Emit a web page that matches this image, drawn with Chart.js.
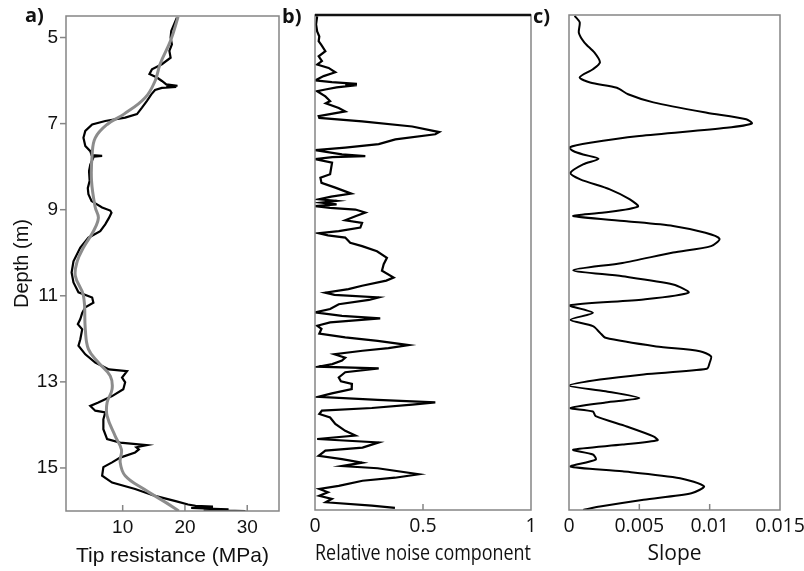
<!DOCTYPE html>
<html>
<head>
<meta charset="utf-8">
<script src="https://cdn.jsdelivr.net/npm/chart.js@4.4.0/dist/chart.umd.min.js"></script>
<style>
  html, body { margin: 0; padding: 0; background: #fff; }
  #wrap { position: relative; width: 804px; height: 571px; overflow: hidden; }
  canvas { position: absolute; top: 0; }
</style>
</head>
<body>
<div id="wrap">
  <canvas id="tipChart" width="280" height="571" style="left:0"></canvas>
  <canvas id="noiseChart" width="260" height="571" style="left:280px"></canvas>
  <canvas id="slopeChart" width="274" height="571" style="left:530px"></canvas>
</div>
<script>
// a) tip resistance, raw (black) and smoothed (grey), depth in m
const rawDepth = [4.54, 4.85, 5.0, 5.16, 5.31, 5.47, 5.62, 5.74, 5.85, 5.93, 6.01, 6.09, 6.12, 6.14, 6.15, 6.17,
  6.22, 6.32, 6.47, 6.63, 6.78, 6.86, 6.94, 7.02, 7.17, 7.33, 7.52, 7.64, 7.73, 7.75, 7.77, 7.79, 7.95, 8.1,
  8.33, 8.5, 8.64, 8.8, 8.95, 9.02, 9.07, 9.19, 9.34, 9.5, 9.65, 9.88, 10.2, 10.46, 10.69, 10.92, 11.04,
  11.16, 11.27, 11.4, 11.54, 11.66, 11.78, 12.01, 12.16, 12.36, 12.55, 12.71, 12.75, 12.9, 13.01, 13.17,
  13.33, 13.48, 13.56, 13.67, 13.71, 13.87, 14.1, 14.33, 14.41, 14.47, 14.52, 14.57, 14.64, 14.76, 14.87,
  14.98, 15.18, 15.34, 15.49, 15.65, 15.77, 15.85, 15.88, 15.9, 15.93, 15.96, 15.98, 16.0];
const rawTip = [18.7, 17.8, 17.7, 17.9, 17.5, 17.7, 16.3, 14.7, 14.3, 15.5, 16.3, 17.0, 18.8, 17.0, 18.6, 16.3,
  15.2, 14.6, 13.9, 13.1, 12.3, 10.4, 7.2, 5.1, 4.0, 3.7, 4.0, 4.8, 5.0, 6.7, 5.3, 5.3, 4.8, 4.6,
  4.7, 4.4, 4.5, 5.0, 6.7, 8.0, 8.2, 7.8, 7.2, 6.4, 4.5, 3.2, 2.1, 1.8, 2.1, 2.9, 5.1,
  5.3, 4.0, 3.5, 3.2, 2.8, 3.5, 3.2, 2.9, 4.0, 5.6, 7.8, 10.7, 9.9, 10.4, 10.1,
  8.3, 6.1, 4.8, 5.6, 7.2, 6.9, 6.9, 7.5, 9.6, 13.9, 12.2, 12.6, 12.0, 9.6, 8.3,
  6.9, 6.7, 8.3, 12.0, 15.2, 18.5, 20.5, 21.7, 24.5, 21.0, 27.0, 23.0, 29.7];
const smoothDepth = [4.52, 5.07, 5.62, 6.01, 6.4, 6.78, 7.02, 7.33, 7.72, 8.33, 8.95, 9.19, 9.5, 9.88, 10.2,
  10.54, 11.0, 11.78, 12.24, 12.55, 12.86, 13.17, 13.48, 13.79, 14.26, 14.57, 14.87, 15.18, 15.49, 15.8, 16.0];
const smoothTip = [18.9, 17.7, 16.0, 15.2, 13.6, 10.2, 7.5, 5.6, 5.1, 5.0, 5.6, 6.1, 5.3, 3.7, 2.7,
  2.4, 3.7, 4.0, 4.5, 6.1, 8.0, 8.3, 7.5, 7.5, 8.8, 9.8, 9.6, 10.4, 13.4, 16.9, 19.0];

// b) relative noise component
const noiseDepth = [4.53, 4.72, 4.88, 5.0, 5.11, 5.2, 5.34, 5.46, 5.57, 5.65, 5.73, 5.83, 5.92, 6.02, 6.06,
  6.1, 6.12, 6.13, 6.18, 6.23, 6.27, 6.39, 6.5, 6.55, 6.66, 6.74, 6.85, 6.89, 6.97, 7.09, 7.22, 7.27,
  7.39, 7.5, 7.58, 7.64, 7.74, 7.78, 7.8, 7.85, 7.93, 8.05, 8.2, 8.28, 8.4, 8.51, 8.65, 8.72, 8.78,
  8.82, 8.86, 8.9, 8.94, 8.98, 9.02, 9.09, 9.17, 9.27, 9.33, 9.44, 9.52, 9.57, 9.62, 9.67, 9.79, 9.87,
  9.99, 10.14, 10.29, 10.44, 10.6, 10.67, 10.79, 10.87, 10.95, 11.0, 11.06, 11.12, 11.22, 11.33, 11.41,
  11.49, 11.55, 11.64, 11.72, 11.79, 11.9, 11.99, 12.07, 12.17, 12.24, 12.3, 12.38, 12.46, 12.53, 12.61,
  12.67, 12.71, 12.8, 12.92, 13.01, 13.07, 13.19, 13.29, 13.37, 13.44, 13.5, 13.55, 13.63, 13.69, 13.77,
  13.85, 14.0, 14.16, 14.27, 14.35, 14.43, 14.55, 14.62, 14.74, 14.82, 14.9, 14.98, 15.03, 15.17, 15.25,
  15.32, 15.44, 15.51, 15.59, 15.67, 15.74, 15.82, 15.9, 15.95];
const noiseVal = [0.01, 0.005, 0.01, 0.02, 0.017, 0.03, 0.048, 0.017, 0.032, 0.01, 0.063, 0.094, 0.04, 0.0, 0.078,
  0.194, 0.14, 0.194, 0.1, 0.048, 0.01, 0.048, 0.07, 0.05, 0.11, 0.14, 0.017, 0.02, 0.218, 0.45, 0.575, 0.557,
  0.372, 0.295, 0.14, 0.0, 0.125, 0.233, 0.08, 0.0, 0.079, 0.075, 0.07, 0.025, 0.03, 0.094, 0.168, 0.075, 0.02,
  0.1, 0.03, 0.1, 0.0, 0.07, 0.187, 0.233, 0.19, 0.14, 0.218, 0.21, 0.11, 0.017, 0.06, 0.14, 0.163, 0.218,
  0.287, 0.333, 0.318, 0.31, 0.364, 0.33, 0.218, 0.155, 0.048, 0.09, 0.295, 0.25, 0.11, 0.07, 0.0,
  0.125, 0.302, 0.07, 0.01, 0.03, 0.02, 0.14, 0.29, 0.434, 0.34, 0.22, 0.09, 0.14, 0.125, 0.08,
  0.017, 0.295, 0.14, 0.11, 0.12, 0.171, 0.17, 0.078, 0.017, 0.29, 0.557, 0.45, 0.263, 0.032, 0.02,
  0.07, 0.094, 0.14, 0.187, 0.01, 0.295, 0.22, 0.048, 0.017, 0.125, 0.218, 0.125, 0.29, 0.48, 0.37,
  0.22, 0.11, 0.02, 0.06, 0.02, 0.078, 0.05, 0.263, 0.37];

// c) slope
const slopeDepth = [4.52, 4.67, 4.91, 5.14, 5.37, 5.6, 5.76, 5.95, 6.07, 6.19, 6.34, 6.53, 6.77, 6.92, 7.02,
  7.12, 7.31, 7.47, 7.58, 7.66, 7.74, 7.84, 7.97, 8.17, 8.32, 8.55, 8.78, 8.95, 9.09, 9.17, 9.29, 9.4,
  9.56, 9.7, 9.87, 10.02, 10.26, 10.43, 10.57, 10.76, 10.95, 11.11, 11.25, 11.42, 11.58, 11.73, 11.88,
  12.0, 12.2, 12.31, 12.43, 12.58, 12.72, 12.85, 12.97, 13.11, 13.24, 13.4, 13.5, 13.63, 13.71, 13.82,
  14.06, 14.29, 14.38, 14.48, 14.6, 14.71, 14.83, 14.99, 15.1, 15.26, 15.45, 15.61, 15.76, 15.92, 16.0];
const slopeVal = [0.0004, 0.00076, 0.0007, 0.0011, 0.0018, 0.0022, 0.0017, 0.00076, 0.0015, 0.0034, 0.0042,
  0.006, 0.0098, 0.0126, 0.013, 0.0112, 0.005, 0.0015, 0.0, 0.0003, 0.001, 0.0021, 0.001, 0.0001, 0.0008,
  0.0029, 0.0043, 0.0049, 0.0025, 0.0003, 0.0041, 0.0074, 0.0097, 0.0107, 0.0101, 0.0074, 0.0038, 0.0003,
  0.0038, 0.0074, 0.0085, 0.0053, 0.0, 0.0017, 0.0001, 0.0017, 0.0022, 0.0026, 0.0062, 0.0093, 0.0101,
  0.01, 0.0098, 0.0053, 0.0022, 0.0, 0.0026, 0.005, 0.0026, 0.0001, 0.0017, 0.0019, 0.0041, 0.006, 0.0063,
  0.0038, 0.0003, 0.0017, 0.0019, 0.0001, 0.0038, 0.0079, 0.0096, 0.0087, 0.0053, 0.0022, 0.001];

const depthTicks = [5, 7, 9, 11, 13, 15];
const tipTicks = [10, 20, 30];
const noiseTicks = [0, 0.5, 1];
const slopeTicks = [0, 0.005, 0.01, 0.015];

function points(depths, values) {
  return depths.map((d, i) => ({ x: values[i], y: d }));
}

// frame box, inward/outward ticks and the panel letter
const panelFrame = {
  id: 'panelFrame',
  afterDraw(chart, args, o) {
    const { ctx, chartArea: a } = chart;
    const xs = chart.scales.x, ys = chart.scales.y;
    ctx.save();
    ctx.lineWidth = 1.5;
    ctx.strokeStyle = '#858585';
    ctx.strokeRect(a.left, a.top, a.right - a.left, a.bottom - a.top);
    if (o.darkTop) {
      ctx.strokeStyle = '#111';
      ctx.lineWidth = 2.5;
      ctx.beginPath();
      ctx.moveTo(a.left, a.top);
      ctx.lineTo(a.right, a.top);
      ctx.stroke();
    }
    ctx.strokeStyle = '#858585';
    ctx.lineWidth = 1.5;
    o.xTicks.forEach(v => {
      const px = xs.getPixelForValue(v);
      ctx.beginPath();
      ctx.moveTo(px, a.bottom);
      ctx.lineTo(px, a.bottom - 6);
      ctx.stroke();
    });
    (o.yTicks || []).forEach(v => {
      const py = ys.getPixelForValue(v);
      ctx.beginPath();
      ctx.moveTo(a.left - 6, py);
      ctx.lineTo(a.left, py);
      ctx.stroke();
    });
    ctx.fillStyle = '#111';
    ctx.font = 'bold 20px "Open Sans"';
    ctx.textBaseline = 'alphabetic';
    ctx.fillText(o.letter, o.lx, o.ly);
    ctx.restore();
  }
};

function depthAxis(show) {
  return {
    type: 'linear',
    min: 4.5,
    max: 16,
    reverse: true,
    display: show,
    grid: { display: false, drawTicks: false },
    border: { display: false },
    afterBuildTicks: s => { s.ticks = depthTicks.map(v => ({ value: v })); },
    ticks: { autoSkip: false, padding: 8, color: '#111', font: { family: 'Liberation Sans', size: 19 } },
    title: { display: show, text: 'Depth (m)', color: '#111', font: { family: 'Liberation Sans', size: 20 }, padding: { top: 10 } },
    afterFit: s => {
      s.width = show ? 66 : 0;
      s.paddingTop = 0;
      s.paddingBottom = 0;
    }
  };
}

function valueAxis(min, max, tickVals, titleText, family, height) {
  const sans = family === 'Open Sans';
  return {
    type: 'linear',
    min: min,
    max: max,
    position: 'bottom',
    grid: { display: false, drawTicks: false },
    border: { display: false },
    afterBuildTicks: s => { s.ticks = tickVals.map(v => ({ value: v })); },
    ticks: {
      autoSkip: false, maxRotation: 0, minRotation: 0, padding: 5, color: '#111',
      font: { family: family, size: sans ? 19.5 : 19 },
      callback: v => String(v)
    },
    title: { display: true, text: titleText, color: '#111', font: { family: family, size: 21 }, padding: { bottom: sans ? 4 : 2 } },
    afterFit: s => { s.height = height; s.paddingLeft = 0; s.paddingRight = 0; }
  };
}

function lineSet(pts, color, width, tension, order) {
  return { data: pts, showLine: true, borderColor: color, borderWidth: width, pointRadius: 0, fill: false, tension: tension, order: order };
}

document.addEventListener('DOMContentLoaded', () => {
  // a) Tip resistance
  new Chart(document.getElementById('tipChart'), {
    type: 'scatter',
    data: {
      datasets: [
        lineSet(points(smoothDepth, smoothTip), '#8c8c8c', 3, 0.4, 0),
        lineSet(points(rawDepth, rawTip), '#000', 2.2, 0, 1)
      ]
    },
    options: {
      responsive: false,
      animation: false,
      layout: { padding: { top: 16, right: 1, left: 0, bottom: 0 } },
      plugins: {
        legend: { display: false },
        tooltip: { enabled: false },
        panelFrame: { xTicks: tipTicks, yTicks: depthTicks, letter: 'a)', lx: 25, ly: 22 }
      },
      scales: {
        x: valueAxis(0.9, 35.1, tipTicks, 'Tip resistance (MPa)', 'Liberation Sans', 60),
        y: depthAxis(true)
      }
    },
    plugins: [panelFrame]
  });

  // b) Relative noise component
  new Chart(document.getElementById('noiseChart'), {
    type: 'scatter',
    data: { datasets: [lineSet(points(noiseDepth, noiseVal), '#000', 2.2, 0, 0)] },
    options: {
      responsive: false,
      animation: false,
      layout: { padding: { top: 15, right: 9, left: 35, bottom: 0 } },
      plugins: {
        legend: { display: false },
        tooltip: { enabled: false },
        panelFrame: { xTicks: [0.5], darkTop: true, letter: 'b)', lx: 2, ly: 23 }
      },
      scales: {
        x: valueAxis(0, 1, noiseTicks, 'Relative noise component', 'Open Sans', 61),
        y: depthAxis(false)
      }
    },
    plugins: [panelFrame]
  });

  // c) Slope
  new Chart(document.getElementById('slopeChart'), {
    type: 'scatter',
    data: { datasets: [lineSet(points(slopeDepth, slopeVal), '#000', 2, 0.25, 0)] },
    options: {
      responsive: false,
      animation: false,
      layout: { padding: { top: 15, right: 24, left: 39, bottom: 0 } },
      plugins: {
        legend: { display: false },
        tooltip: { enabled: false },
        panelFrame: { xTicks: [0.005, 0.01], letter: 'c)', lx: 3, ly: 23 }
      },
      scales: {
        x: valueAxis(0, 0.015, slopeTicks, 'Slope', 'Open Sans', 61),
        y: depthAxis(false)
      }
    },
    plugins: [panelFrame]
  });
});
</script>
</body>
</html>
